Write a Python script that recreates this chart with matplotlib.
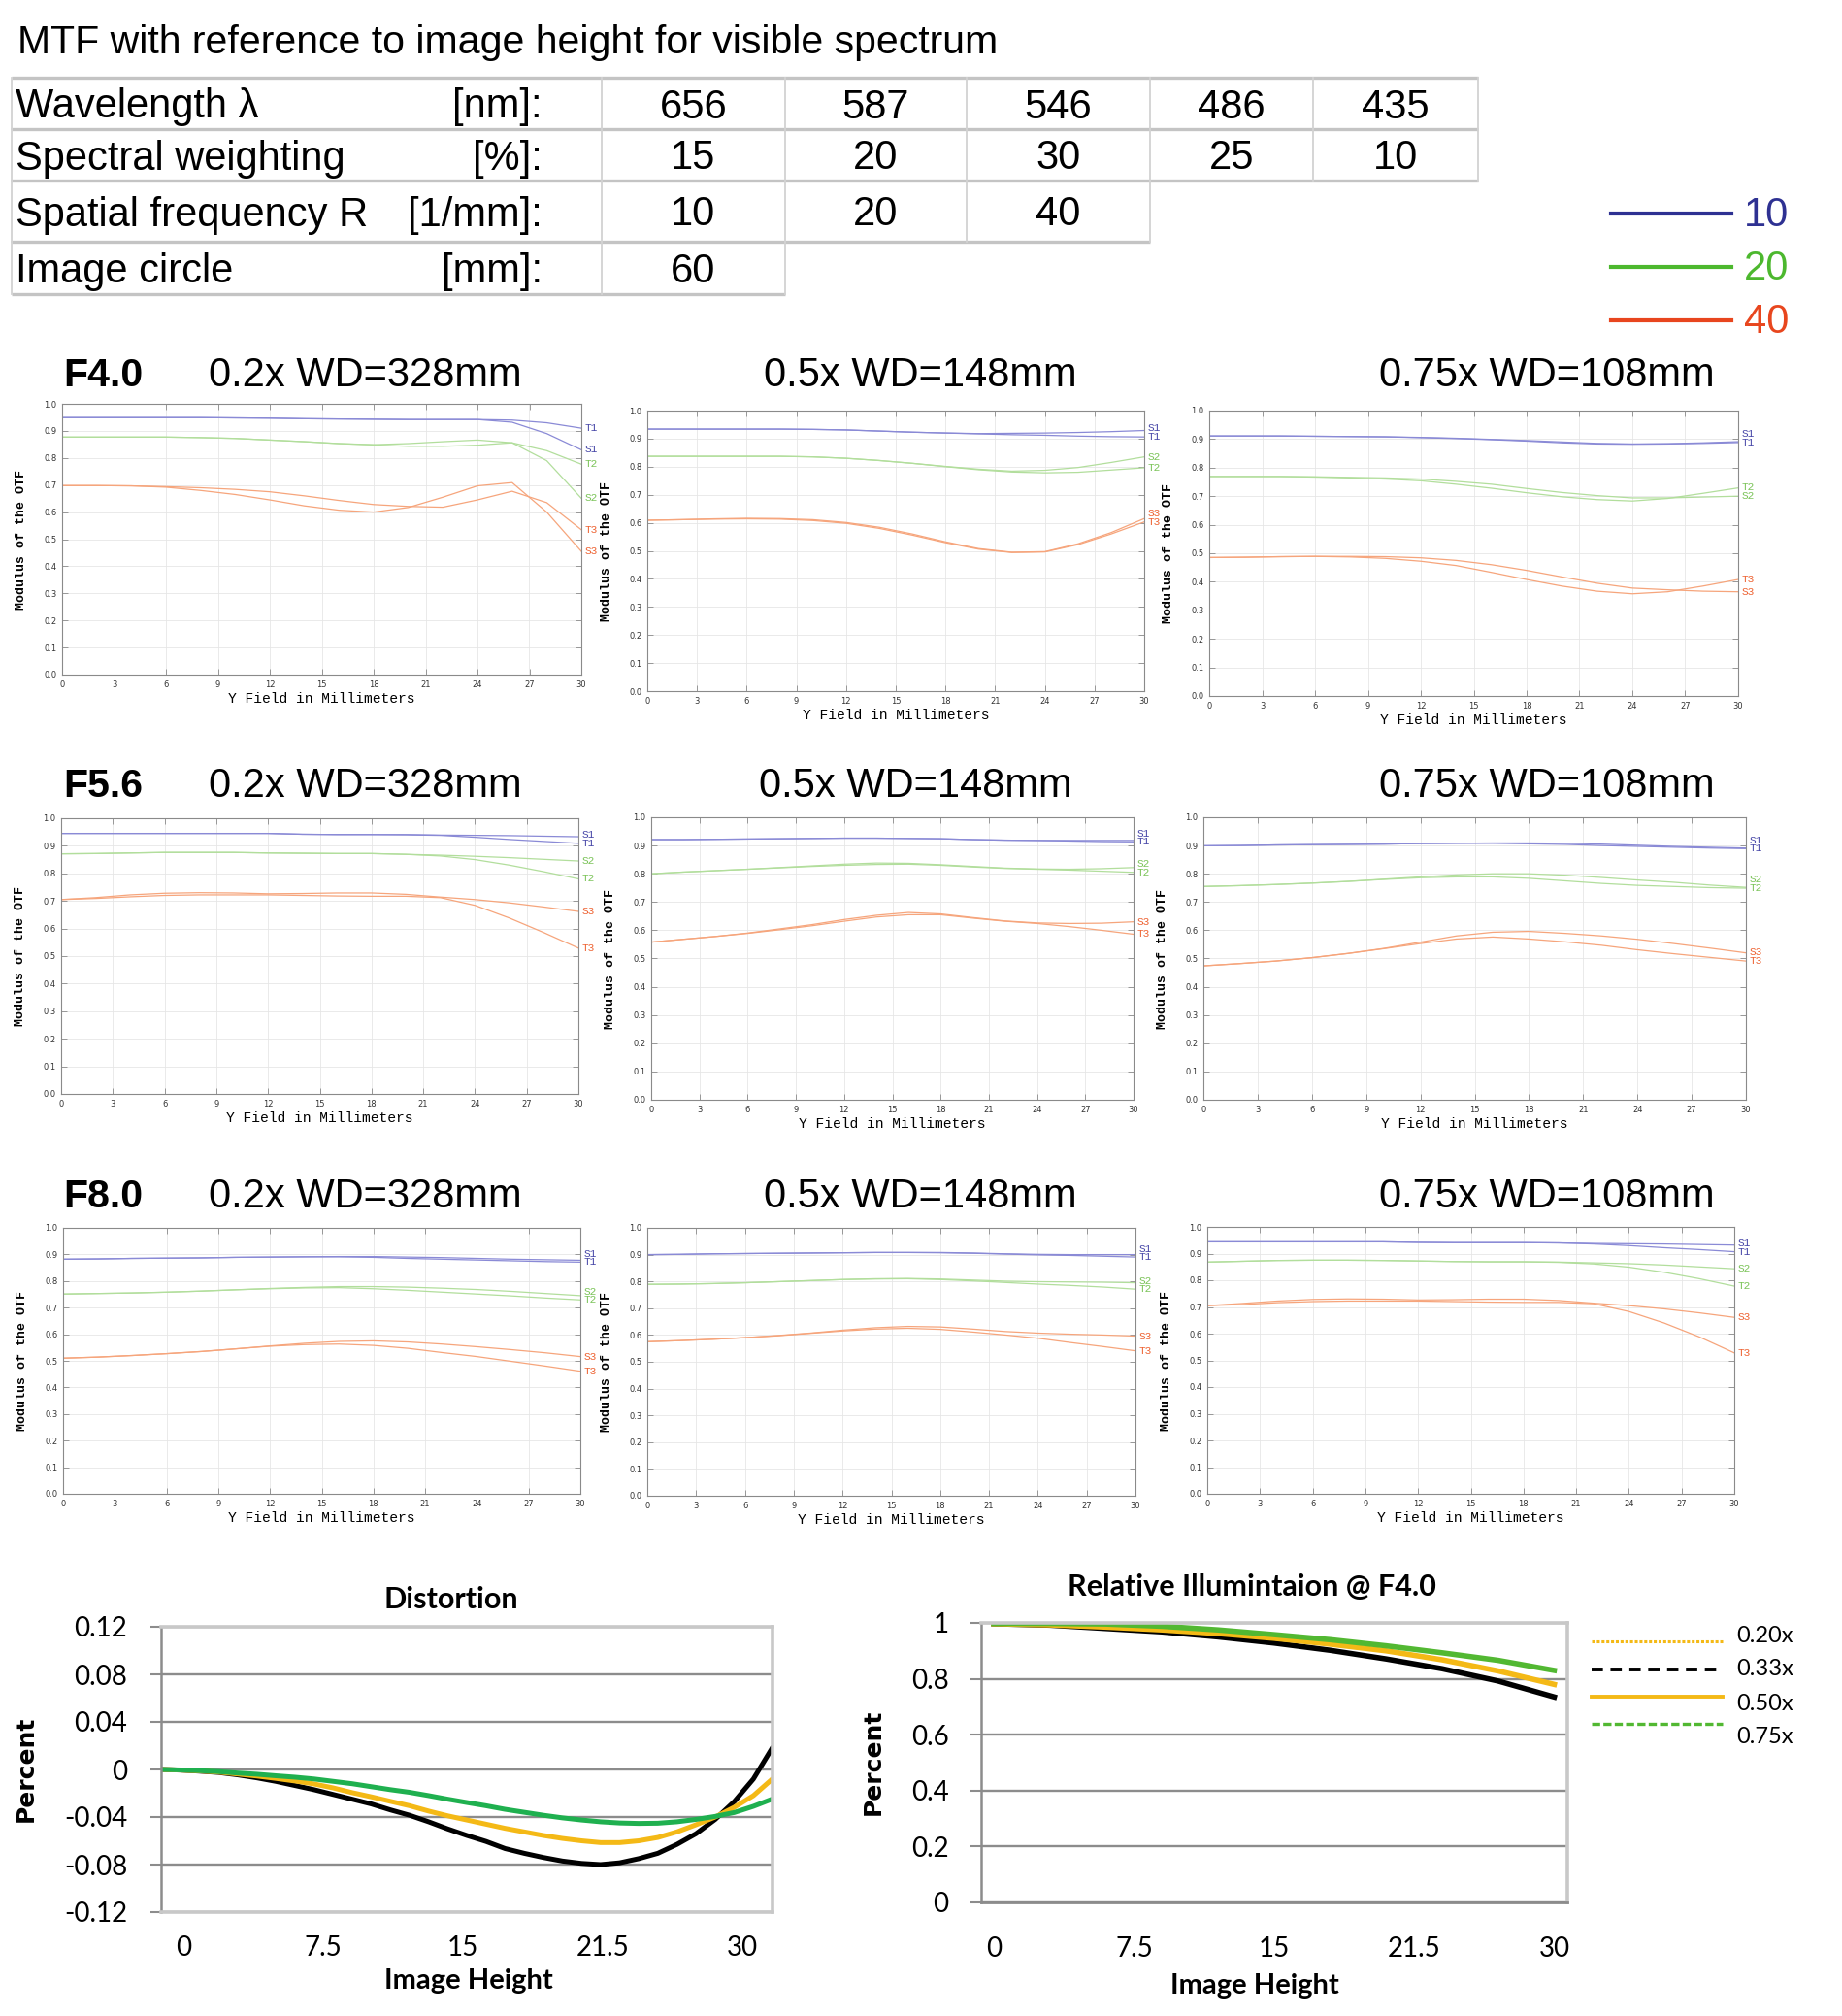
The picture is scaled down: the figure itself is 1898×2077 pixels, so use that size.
import numpy as np
import matplotlib
matplotlib.use("Agg")
import matplotlib.pyplot as plt
from matplotlib.transforms import blended_transform_factory

plt.rcParams['font.family'] = ['Liberation Sans', 'DejaVu Sans']

# ------------------------------------------------------------------ data
TITLE = "MTF with reference to image height for visible spectrum"
TABLE_LABELS = ["Wavelength λ", "Spectral weighting", "Spatial frequency R", "Image circle"]
TABLE_UNITS = ["[nm]:", "[%]:", "[1/mm]:", "[mm]:"]
WAVELENGTH_NM = [656, 587, 546, 486, 435]
SPECTRAL_WEIGHT = [15, 20, 30, 25, 10]
SPATIAL_FREQ = [10, 20, 40]
IMAGE_CIRCLE = [60]
FREQ_LEGEND = ["10", "20", "40"]

APERTURES = ["F4.0", "F5.6", "F8.0"]
MAGNIFICATIONS = ["0.2x WD=328mm", "0.5x WD=148mm", "0.75x WD=108mm"]

FIELD_MM = [0, 2, 4, 6, 8, 10, 12, 14, 16, 18, 20, 22, 24, 26, 28, 30]

MTF_F40_020 = {
    'T1': [.949, .949, .949, .949, .949, .948, .947, .945, .944, .943, .942, .942, .942, .940, .930, .910],
    'S1': [.949, .949, .949, .949, .949, .948, .947, .945, .944, .943, .942, .942, .942, .932, .890, .830],
    'T2': [.877, .877, .877, .877, .875, .872, .866, .860, .853, .848, .843, .843, .847, .856, .827, .777],
    'S2': [.877, .877, .877, .877, .875, .872, .866, .860, .853, .849, .853, .860, .866, .856, .790, .651],
    'T3': [.698, .698, .697, .694, .690, .684, .675, .660, .643, .628, .621, .618, .645, .677, .635, .535],
    'S3': [.698, .698, .697, .692, .680, .665, .645, .623, .607, .600, .617, .655, .697, .709, .600, .455],
}
MTF_F40_050 = {
    'S1': [.934, .934, .934, .934, .934, .933, .931, .927, .923, .920, .918, .919, .920, .922, .925, .929],
    'T1': [.934, .934, .934, .934, .934, .933, .931, .927, .923, .920, .917, .914, .912, .909, .907, .906],
    'S2': [.837, .837, .837, .837, .837, .835, .830, .822, .812, .801, .791, .784, .787, .797, .815, .835],
    'T2': [.837, .837, .837, .837, .837, .835, .830, .822, .812, .800, .789, .781, .778, .780, .788, .796],
    'S3': [.609, .611, .614, .616, .615, .611, .601, .584, .560, .532, .508, .495, .497, .525, .565, .615],
    'T3': [.609, .611, .613, .614, .613, .608, .598, .580, .556, .529, .506, .494, .496, .522, .560, .603],
}
MTF_F40_075 = {
    'S1': [.911, .911, .911, .910, .909, .908, .906, .903, .899, .895, .890, .885, .883, .884, .887, .891],
    'T1': [.911, .911, .911, .910, .909, .908, .905, .902, .898, .893, .887, .883, .882, .883, .885, .888],
    'S2': [.769, .769, .769, .768, .766, .764, .760, .752, .742, .727, .713, .702, .694, .694, .697, .700],
    'T2': [.769, .769, .769, .767, .764, .760, .754, .742, .728, .712, .698, .688, .683, .692, .710, .729],
    'S3': [.485, .486, .488, .489, .489, .488, .484, .475, .460, .440, .417, .395, .378, .372, .367, .365],
    'T3': [.485, .486, .488, .489, .487, .482, .472, .457, .433, .408, .385, .367, .358, .365, .385, .408],
}
MTF_F56_020 = {
    'S1': [.945, .945, .945, .945, .945, .945, .945, .942, .941, .941, .941, .939, .938, .937, .935, .933],
    'T1': [.945, .945, .945, .945, .945, .945, .945, .942, .941, .941, .940, .938, .931, .923, .916, .909],
    'S2': [.871, .872, .874, .876, .876, .876, .874, .873, .872, .872, .869, .866, .862, .857, .851, .845],
    'T2': [.871, .872, .874, .876, .876, .876, .874, .873, .872, .872, .869, .863, .850, .830, .806, .780],
    'S3': [.705, .712, .722, .728, .730, .729, .726, .727, .729, .729, .724, .714, .705, .693, .678, .662],
    'T3': [.705, .709, .715, .720, .722, .722, .722, .720, .718, .717, .717, .712, .684, .638, .585, .529],
}
MTF_F56_050 = {
    'S1': [.921, .921, .922, .923, .924, .925, .926, .926, .925, .924, .921, .919, .918, .918, .918, .918],
    'T1': [.921, .921, .922, .923, .924, .925, .926, .926, .925, .924, .921, .919, .918, .916, .914, .913],
    'S2': [.800, .806, .811, .816, .822, .828, .834, .838, .837, .832, .826, .820, .817, .816, .818, .822],
    'T2': [.800, .806, .811, .816, .821, .826, .830, .833, .834, .830, .824, .819, .816, .813, .809, .805],
    'S3': [.558, .568, .578, .590, .605, .620, .638, .653, .663, .658, .645, .633, .626, .624, .625, .630],
    'T3': [.558, .568, .578, .589, .602, .616, .632, .647, .655, .655, .643, .632, .624, .613, .600, .586],
}
MTF_F56_075 = {
    'S1': [.899, .900, .902, .903, .904, .905, .907, .908, .909, .909, .908, .905, .901, .897, .894, .891],
    'T1': [.899, .900, .902, .903, .904, .905, .907, .908, .908, .906, .904, .900, .897, .894, .891, .889],
    'S2': [.755, .758, .762, .767, .773, .781, .789, .796, .800, .800, .795, .787, .778, .770, .760, .752],
    'T2': [.755, .758, .762, .767, .773, .780, .786, .789, .789, .784, .775, .766, .759, .755, .751, .749],
    'S3': [.474, .482, .491, .503, .518, .536, .558, .580, .593, .596, .589, .580, .568, .553, .537, .520],
    'T3': [.474, .482, .491, .503, .518, .535, .553, .569, .576, .569, .559, .547, .531, .517, .504, .491],
}
MTF_F80_020 = {
    'S1': [.882, .883, .885, .886, .887, .889, .890, .891, .892, .892, .890, .888, .885, .882, .880, .878],
    'T1': [.882, .883, .885, .886, .887, .889, .890, .891, .891, .889, .885, .882, .879, .876, .873, .871],
    'S2': [.751, .753, .755, .758, .762, .767, .772, .776, .779, .779, .777, .773, .768, .761, .753, .745],
    'T2': [.751, .753, .755, .758, .762, .767, .771, .774, .775, .771, .765, .758, .751, .744, .736, .729],
    'S3': [.510, .514, .520, .527, .535, .545, .556, .566, .573, .575, .571, .563, .553, .542, .530, .516],
    'T3': [.510, .514, .520, .527, .535, .545, .555, .561, .563, .558, .547, .531, .516, .498, .480, .461],
}
MTF_F80_050 = {
    'S1': [.900, .901, .903, .904, .905, .906, .907, .908, .908, .908, .906, .903, .901, .900, .900, .900],
    'T1': [.900, .901, .903, .904, .905, .906, .907, .908, .908, .907, .905, .902, .899, .897, .894, .891],
    'S2': [.789, .790, .792, .795, .799, .803, .807, .810, .811, .809, .805, .801, .799, .798, .797, .795],
    'T2': [.789, .790, .792, .795, .799, .803, .807, .809, .810, .807, .802, .796, .790, .785, .779, .771],
    'S3': [.575, .579, .584, .590, .598, .607, .618, .627, .632, .630, .622, .613, .607, .603, .600, .596],
    'T3': [.575, .579, .584, .590, .597, .606, .615, .622, .625, .621, .611, .600, .588, .572, .557, .541],
}
MTF_F80_075 = {
    'S1': [.944, .944, .944, .944, .944, .944, .942, .941, .941, .941, .940, .938, .937, .936, .934, .932],
    'T1': [.944, .944, .944, .944, .944, .944, .942, .941, .941, .941, .940, .936, .930, .922, .915, .907],
    'S2': [.868, .871, .874, .875, .875, .874, .872, .870, .869, .869, .868, .865, .862, .857, .850, .843],
    'T2': [.868, .871, .874, .875, .875, .874, .872, .870, .869, .869, .867, .861, .849, .830, .806, .778],
    'S3': [.705, .713, .722, .728, .730, .729, .726, .727, .729, .729, .724, .714, .705, .693, .678, .661],
    'T3': [.705, .709, .716, .720, .722, .722, .722, .720, .718, .717, .717, .712, .683, .640, .588, .528],
}
MTF_GRID = [[MTF_F40_020, MTF_F40_050, MTF_F40_075],
            [MTF_F56_020, MTF_F56_050, MTF_F56_075],
            [MTF_F80_020, MTF_F80_050, MTF_F80_075]]

# Distortion (percent) vs image height
DIST_H = list(range(33))
DIST_033X = [0, -.0005, -.0014, -.0025, -.0045, -.0070, -.0100, -.0135, -.0170, -.0210, -.0250,
             -.0290, -.0340, -.0385, -.0440, -.0500, -.0555, -.0605, -.0665, -.0705, -.0740,
             -.0770, -.0790, -.0800, -.0785, -.0750, -.0705, -.0630, -.0540, -.0420, -.0270,
             -.0080, .0185]
DIST_050X = [0, -.0005, -.0012, -.0022, -.0038, -.0055, -.0075, -.0097, -.0122, -.0155, -.0195,
             -.0230, -.0268, -.0305, -.0350, -.0390, -.0425, -.0460, -.0495, -.0525, -.0555,
             -.0580, -.0600, -.0615, -.0615, -.0600, -.0572, -.0525, -.0465, -.0400, -.0318,
             -.0220, -.0079]
DIST_075X = [0, -.0004, -.0010, -.0018, -.0030, -.0040, -.0053, -.0065, -.0080, -.0100, -.0120,
             -.0145, -.0170, -.0192, -.0220, -.0250, -.0278, -.0305, -.0335, -.0360, -.0385,
             -.0407, -.0425, -.0440, -.0450, -.0454, -.0452, -.0440, -.0420, -.0395, -.0362,
             -.0310, -.0248]
DIST_YTICKS = [-0.12, -0.08, -0.04, 0, 0.04, 0.08, 0.12]
DIST_YLABELS = ["-0.12", "-0.08", "-0.04", "0", "0.04", "0.08", "0.12"]
DIST_XTICK_POS = [1.2, 8.5, 15.8, 23.1, 30.4]
HEIGHT_LABELS = ["0", "7.5", "15", "21.5", "30"]

# Relative illumination @ F4.0
RI_H = [0, 3, 6, 9, 12, 15, 18, 21, 24, 27, 30]
RI_033X = [.997, .992, .980, .968, .950, .928, .902, .871, .836, .792, .735]
RI_050X = [.997, .993, .985, .975, .962, .945, .924, .900, .868, .828, .780]
RI_075X = [.998, .998, .996, .988, .975, .958, .940, .918, .893, .866, .830]
RI_YTICKS = [0, 0.2, 0.4, 0.6, 0.8, 1.0]
RI_YLABELS = ["0", "0.2", "0.4", "0.6", "0.8", "1"]
RI_XTICKS = [0, 7.5, 15, 22.5, 30]
RI_LEGEND = ["0.20x", "0.33x", "0.50x", "0.75x"]

# ------------------------------------------------------------------ style
W, H = 1898, 2077
BLUE_L, GREEN_L, ORANGE_L = '#8a8ad6', '#b2de9c', '#f6a57c'
BLUE_T, GREEN_T, ORANGE_T = '#4848a8', '#7cc45a', '#ee6434'
FREQ_COLORS = ['#2e3192', '#4cb82e', '#e8461e']
YELLOW = '#f4b916'
GREEN_D = '#1fb04f'
GREEN_R = '#52b832'

fig = plt.figure(figsize=(W / 100, H / 100), dpi=100)


def ax_px(x0, y0, x1, y1):
    return fig.add_axes([x0 / W, 1 - y1 / H, (x1 - x0) / W, (y1 - y0) / H])


ov = fig.add_axes([0, 0, 1, 1])
ov.set_xlim(0, W)
ov.set_ylim(H, 0)
ov.axis('off')

# title
ov.text(18, 44, TITLE, fontsize=29.5, ha='left', va='center')

# table
COL_EDGES = [620, 809, 996, 1185, 1353, 1523]
ROW_EDGES = [80, 133, 186, 249, 303]
row_values = [WAVELENGTH_NM, SPECTRAL_WEIGHT, SPATIAL_FREQ, IMAGE_CIRCLE]
hcol = '#c4c4c4'
vcol = '#d2d2d2'
for i, vals in enumerate(row_values):
    y0, y1 = ROW_EDGES[i], ROW_EDGES[i + 1]
    yc = (y0 + y1) / 2 + 4
    right = COL_EDGES[len(vals)]
    ov.plot([12, right], [y1, y1], color=hcol, lw=2.4, solid_capstyle='butt')
    if i == 0:
        ov.plot([12, right], [y0, y0], color=hcol, lw=2.4, solid_capstyle='butt')
    for x in [12] + COL_EDGES[:len(vals) + 1]:
        ov.plot([x, x], [y0, y1], color=vcol, lw=1.3)
    ov.text(16, yc, TABLE_LABELS[i], fontsize=30, ha='left', va='center')
    ov.text(559, yc, TABLE_UNITS[i], fontsize=30, ha='right', va='center')
    for j, v in enumerate(vals):
        ov.text((COL_EDGES[j] + COL_EDGES[j + 1]) / 2, yc, str(v), fontsize=30,
                ha='center', va='center')

# frequency legend
for k, (lab, c) in enumerate(zip(FREQ_LEGEND, FREQ_COLORS)):
    y = 220 + k * 55
    ov.plot([1660, 1784], [y, y], color=c, lw=3)
    ov.text(1797, y + 2, lab, color=c, fontsize=30, ha='left', va='center')

# MTF panels
PANEL_RECTS = [
    [(64, 416, 599, 695), (667, 423, 1179, 712), (1246, 423, 1791, 717)],
    [(63, 843, 596, 1127), (671, 842, 1168, 1133), (1240, 842, 1799, 1133)],
    [(65, 1265, 598, 1539), (667, 1265, 1170, 1541), (1244, 1264, 1787, 1539)],
]
HEADER_Y = [387, 810, 1233]
MAG_CENTERS = [[948, 1594], [943, 1594], [948, 1594]]
LINE_COL = {'1': BLUE_L, '2': GREEN_L, '3': ORANGE_L}
TEXT_COL = {'1': BLUE_T, '2': GREEN_T, '3': ORANGE_T}

for r in range(3):
    yh = HEADER_Y[r]
    ov.text(65, yh, APERTURES[r], fontsize=29.5, fontweight='bold', ha='left', va='center')
    ov.text(215, yh, MAGNIFICATIONS[0], fontsize=30, ha='left', va='center')
    ov.text(MAG_CENTERS[r][0], yh, MAGNIFICATIONS[1], fontsize=30, ha='center', va='center')
    ov.text(MAG_CENTERS[r][1], yh, MAGNIFICATIONS[2], fontsize=30, ha='center', va='center')
    for c in range(3):
        x0, y0, x1, y1 = PANEL_RECTS[r][c]
        wpx, hpx = x1 - x0, y1 - y0
        ax = ax_px(x0, y0, x1, y1)
        data = MTF_GRID[r][c]
        for name in ['T1', 'S1', 'T2', 'S2', 'T3', 'S3']:
            ax.plot(FIELD_MM, data[name], color=LINE_COL[name[1]], lw=0.9)
        ax.set_xlim(0, 30)
        ax.set_ylim(0, 1)
        ax.set_xticks(range(0, 31, 3))
        ax.set_yticks(np.arange(0, 1.01, 0.1))
        ax.set_xticklabels([str(v) for v in range(0, 31, 3)], fontsize=6,
                           family='DejaVu Sans', color='#333333')
        ax.set_yticklabels(["%.1f" % v for v in np.arange(0, 1.01, 0.1)], fontsize=6,
                           family='DejaVu Sans', color='#333333')
        ax.tick_params(direction='in', length=4, width=0.6, color='#8a8a8a',
                       top=True, right=True, pad=4)
        ax.grid(True, color='#e6e6e6', lw=0.6)
        ax.set_axisbelow(True)
        for s in ax.spines.values():
            s.set_color('#8a8a8a')
            s.set_linewidth(0.8)
        ax.text(0.5, -25 / hpx, "Y Field in Millimeters", transform=ax.transAxes,
                ha='center', va='center', fontsize=10.5, family='Liberation Mono')
        ax.text(-42 / wpx, 0.5, "Modulus of the OTF", transform=ax.transAxes,
                ha='center', va='center', rotation=90, fontsize=9.5,
                family='Liberation Mono', fontweight='bold')
        # right-hand curve labels, separated so that they do not overlap
        ends = sorted([(data[n][-1], n) for n in data])
        placed = []
        sep = 0.03
        for v, n in ends:
            y = v if not placed else max(v, placed[-1][0] + sep)
            placed.append((y, n))
        tr = blended_transform_factory(ax.transAxes, ax.transData)
        for y, n in placed:
            ax.text(1 + 4 / wpx, y, n, transform=tr, ha='left', va='center',
                    fontsize=8, family='Liberation Mono', color=TEXT_COL[n[1]],
                    clip_on=False)


def excel_style(ax):
    for s in ['top', 'right']:
        ax.spines[s].set_color('#c8c8c8')
        ax.spines[s].set_linewidth(2.6)
    ax.spines['left'].set_color('#8c8c8c')
    ax.spines['left'].set_linewidth(1.8)
    ax.yaxis.grid(True, color='#8c8c8c', lw=1.7)
    ax.tick_params(axis='x', length=0)
    ax.tick_params(axis='y', length=8, width=1.5, color='#8c8c8c', direction='out')


# Distortion
axd = ax_px(166, 1676, 796, 1970)
axd.plot(DIST_H, DIST_033X, color='black', lw=3.6, solid_capstyle='round')
axd.plot(DIST_H, DIST_050X, color=YELLOW, lw=3.6, solid_capstyle='round')
axd.plot(DIST_H, DIST_075X, color=GREEN_D, lw=3.6, solid_capstyle='round')
axd.set_xlim(0, 32)
axd.set_ylim(-0.12, 0.12)
axd.set_yticks(DIST_YTICKS)
axd.set_yticklabels(DIST_YLABELS, fontsize=20, family='Lato')
axd.set_xticks(DIST_XTICK_POS)
axd.set_xticklabels(HEIGHT_LABELS, fontsize=20, family='Lato')
excel_style(axd)
axd.spines['bottom'].set_color('#c8c8c8')
axd.spines['bottom'].set_linewidth(2.6)
axd.tick_params(axis='y', pad=17)
axd.tick_params(axis='x', pad=17)
ov.text(465, 1648, "Distortion", fontsize=22, fontweight='bold', family='Lato',
        ha='center', va='center')
ov.text(483, 2041, "Image Height", fontsize=21, fontweight='bold', family='Lato',
        ha='center', va='center')
ov.text(27, 1822, "Percent", fontsize=18, fontweight='bold', family='DejaVu Sans',
        ha='center', va='center', rotation=90)

# Relative illumination
axr = ax_px(1011, 1672, 1615, 1960)
axr.plot(RI_H, RI_033X, color='black', lw=4)
axr.plot(RI_H, RI_050X, color=YELLOW, lw=4)
axr.plot(RI_H, RI_075X, color=GREEN_R, lw=4)
axr.set_xlim(-0.68, 30.7)
axr.set_ylim(0, 1)
axr.set_yticks(RI_YTICKS)
axr.set_yticklabels(RI_YLABELS, fontsize=20, family='Lato')
axr.set_xticks(RI_XTICKS)
axr.set_xticklabels(HEIGHT_LABELS, fontsize=20, family='Lato')
excel_style(axr)
axr.spines['bottom'].set_color('#8c8c8c')
axr.spines['bottom'].set_linewidth(2.0)
axr.tick_params(axis='y', pad=16)
axr.tick_params(axis='x', pad=25)
ov.text(1290, 1635, "Relative Illumintaion @ F4.0", fontsize=22, fontweight='bold',
        family='Lato', ha='center', va='center')
ov.text(1293, 2046, "Image Height", fontsize=21, fontweight='bold', family='Lato',
        ha='center', va='center')
ov.text(900, 1815, "Percent", fontsize=18, fontweight='bold', family='DejaVu Sans',
        ha='center', va='center', rotation=90)

# legend for relative illumination
LEG_STYLES = [(YELLOW, (0, (1, 0.6)), 2.2), ('black', (0, (3, 2)), 2.8),
              (YELLOW, '-', 2.8), (GREEN_R, (0, (2.5, 1)), 2.4)]
LEG_LINE_Y = [1691, 1720, 1748, 1776]
LEG_TEXT_Y = [1686, 1720, 1755, 1789]
for lab, (c, ls, lw), yl, yt in zip(RI_LEGEND, LEG_STYLES, LEG_LINE_Y, LEG_TEXT_Y):
    ov.plot([1640, 1775], [yl, yl], color=c, ls=ls, lw=lw)
    ov.text(1789, yt, lab, fontsize=17, family='Lato', ha='left', va='center')

fig.savefig("out.png", dpi=100, facecolor='white')
